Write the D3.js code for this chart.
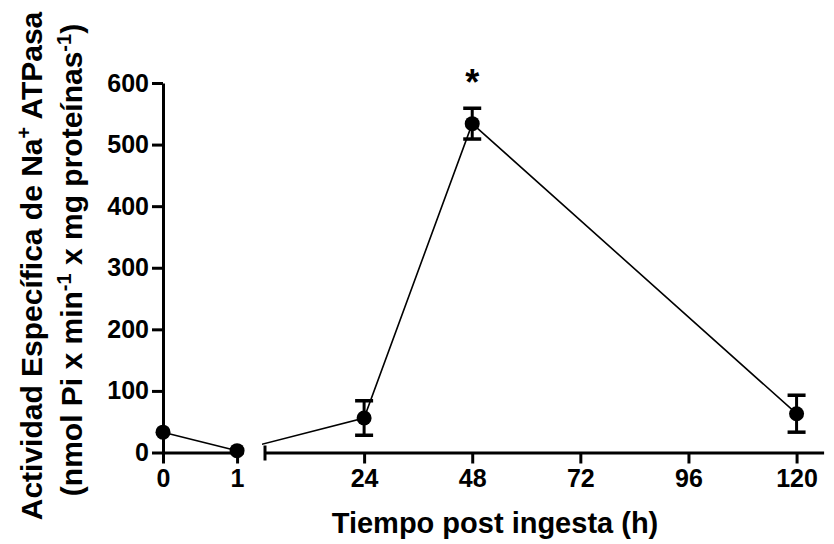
<!DOCTYPE html>
<html>
<head>
<meta charset="utf-8">
<script src="https://cdn.jsdelivr.net/npm/d3@7"></script>
<style>
  html, body { margin: 0; padding: 0; background: #fff; }
  svg { display: block; font-family: "Liberation Sans", Arial, sans-serif; font-weight: bold; }
</style>
</head>
<body>
<svg id="chart" width="834" height="544"></svg>
<script>
// ---- data ----
const times = [0, 1, 24, 48, 120];
const means = [33, 3, 56, 534, 63];
const sems = [0, 0, 28, 25, 30];
const significant = [false, false, false, true, false];
const xTicksSeg1 = [0, 1];
const xTicksSeg2 = [24, 48, 72, 96, 120];
const yTicks = [0, 100, 200, 300, 400, 500, 600];

const svg = d3.select("#chart");
const W = 834, H = 544;
const FONT = "Liberation Sans, Arial, sans-serif";

// ---- scales (broken x axis) ----
const y = d3.scaleLinear().domain([0, 600]).range([452.5, 83]);
const x1 = d3.scaleLinear().domain([0, 1.08]).range([163, 243]);
const x2 = d3.scaleLinear().domain([2, 126]).range([265, 823.6]);
const xPos = t => (t <= 1 ? x1(t) : x2(t));

const data = times.map((t, i) => ({ t, m: means[i], s: sems[i], sig: significant[i] }));

function styleAxis(g) {
  g.select(".domain").attr("stroke-width", 3);
  g.selectAll(".tick line").attr("stroke-width", 3);
  g.selectAll(".tick text").attr("font-size", 25).attr("font-weight", "bold")
    .attr("font-family", FONT).attr("fill", "#000");
}

// ---- y axis ----
svg.append("g")
  .attr("transform", `translate(${x1(0)},0)`)
  .call(d3.axisLeft(y).tickValues(yTicks).tickFormat(d3.format("d"))
    .tickSize(11).tickSizeOuter(0).tickPadding(3))
  .call(styleAxis);

// ---- x axis segment 1 ----
svg.append("g")
  .attr("transform", `translate(0,${y(0)})`)
  .call(d3.axisBottom(x1).tickValues(xTicksSeg1).tickFormat(d3.format("d"))
    .tickSize(11).tickSizeOuter(0).tickPadding(6))
  .call(styleAxis);

// ---- x axis segment 2 ----
const xa2 = svg.append("g")
  .attr("transform", `translate(0,${y(0)})`)
  .call(d3.axisBottom(x2).tickValues(xTicksSeg2).tickFormat(d3.format("d"))
    .tickSize(11).tickSizeOuter(0).tickPadding(6))
  .call(styleAxis);
// break cap at start of segment 2
xa2.append("line")
  .attr("x1", x2(2)).attr("x2", x2(2)).attr("y1", -7).attr("y2", 8)
  .attr("stroke", "#000").attr("stroke-width", 3);

// ---- connecting lines ----
const line = d3.line().x(d => xPos(d.t)).y(d => y(d.m));
svg.append("path").datum(data.slice(0, 2))
  .attr("d", line).attr("fill", "none").attr("stroke", "#000").attr("stroke-width", 1.6);

svg.append("clipPath").attr("id", "seg2clip")
  .append("rect").attr("x", 262).attr("y", 0).attr("width", W - 262).attr("height", H);
svg.append("path").datum(data.slice(1))
  .attr("clip-path", "url(#seg2clip)")
  .attr("d", line).attr("fill", "none").attr("stroke", "#000").attr("stroke-width", 1.6);

// ---- error bars ----
const eb = svg.append("g").selectAll("g").data(data.filter(d => d.s > 0)).join("g");
eb.append("line")
  .attr("x1", d => xPos(d.t)).attr("x2", d => xPos(d.t))
  .attr("y1", d => y(d.m + d.s)).attr("y2", d => y(d.m - d.s))
  .attr("stroke", "#000").attr("stroke-width", 3);
eb.append("line")
  .attr("x1", d => xPos(d.t) - 9).attr("x2", d => xPos(d.t) + 9)
  .attr("y1", d => y(d.m + d.s)).attr("y2", d => y(d.m + d.s))
  .attr("stroke", "#000").attr("stroke-width", 3.5);
eb.append("line")
  .attr("x1", d => xPos(d.t) - 9).attr("x2", d => xPos(d.t) + 9)
  .attr("y1", d => y(d.m - d.s)).attr("y2", d => y(d.m - d.s))
  .attr("stroke", "#000").attr("stroke-width", 3.5);

// ---- points ----
svg.append("g").selectAll("circle").data(data).join("circle")
  .attr("cx", d => xPos(d.t)).attr("cy", d => y(d.m)).attr("r", 7.5).attr("fill", "#000");

// ---- significance marks ----
svg.append("g").selectAll("text").data(data.filter(d => d.sig)).join("text")
  .attr("x", d => xPos(d.t)).attr("y", d => y(d.m + d.s) - 13)
  .attr("text-anchor", "middle").attr("font-size", 36).attr("font-weight", "bold")
  .attr("font-family", FONT).text("*");

// ---- axis titles ----
svg.append("text")
  .attr("x", 495).attr("y", 533)
  .attr("text-anchor", "middle").attr("font-size", 29).attr("font-weight", "bold")
  .text("Tiempo post ingesta (h)");

const yt1 = svg.append("text")
  .attr("transform", "translate(42,266) rotate(-90)")
  .attr("text-anchor", "middle").attr("font-size", 30).attr("font-weight", "bold");
yt1.append("tspan").text("Actividad Específica de Na");
yt1.append("tspan").attr("dy", -11).attr("font-size", 20).text("+");
yt1.append("tspan").attr("dy", 11).text(" ATPasa");

const yt2 = svg.append("text")
  .attr("transform", "translate(82,260) rotate(-90)")
  .attr("text-anchor", "middle").attr("font-size", 30).attr("font-weight", "bold");
yt2.append("tspan").text("(nmol Pi x min");
yt2.append("tspan").attr("dy", -11).attr("font-size", 20).text("-1");
yt2.append("tspan").attr("dy", 11).text(" x mg proteínas");
yt2.append("tspan").attr("dy", -11).attr("font-size", 20).text("-1");
yt2.append("tspan").attr("dy", 11).text(")");
</script>
</body>
</html>
